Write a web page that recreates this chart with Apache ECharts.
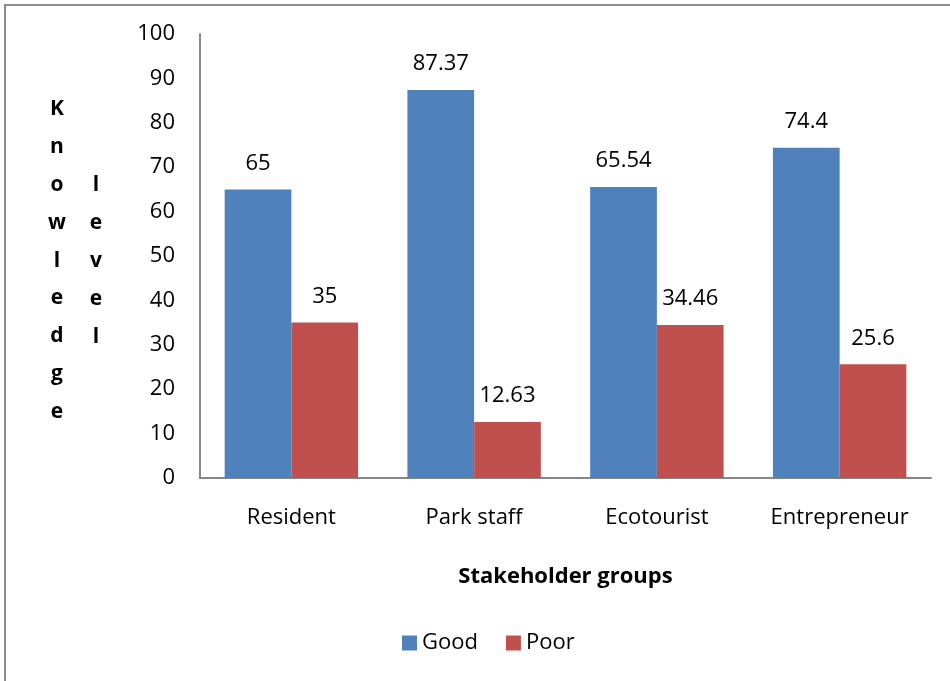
<!DOCTYPE html>
<html>
<head>
<meta charset="utf-8">
<script src="https://cdn.jsdelivr.net/npm/echarts@6/dist/echarts.min.js"></script>
<style>
  html, body { margin: 0; padding: 0; background: #fff; }
  #chart { width: 950px; height: 681px; }
</style>
</head>
<body>
<div id="chart"></div>
<script>
// Knowledge level by stakeholder group
const categories = ['Resident', 'Park staff', 'Ecotourist', 'Entrepreneur'];
const goodValues = [65, 87.37, 65.54, 74.4];
const poorValues = [35, 12.63, 34.46, 25.6];
const seriesNames = ['Good', 'Poor'];
const yTitleFirst = 'Knowledge';
const yTitleSecond = 'level';
const xTitle = 'Stakeholder groups';

const FONT = '"Open Sans", "Noto Sans", sans-serif';
const chart = echarts.init(document.getElementById('chart'));

const labelStyle = {
  show: true,
  position: 'top',
  distance: 15,
  color: '#000',
  fontFamily: FONT,
  fontSize: 22
};

const letterColumn = (word, x, y) => ({
  type: 'text',
  x: x,
  y: y,
  style: {
    text: word.split('').join('\n'),
    fontFamily: FONT,
    fontWeight: 'bold',
    fontSize: 21,
    lineHeight: 37.9,
    fill: '#000',
    align: 'center',
    verticalAlign: 'top'
  }
});

chart.setOption({
  animation: false,
  textStyle: { fontFamily: FONT },
  graphic: [
    {
      type: 'rect',
      shape: { x: 5, y: 5, width: 1000, height: 720 },
      style: { fill: 'none', stroke: '#8c8c8c', lineWidth: 2 },
      silent: true
    },
    letterColumn(yTitleFirst, 57, 90),
    letterColumn(yTitleSecond, 96, 166)
  ],
  grid: { left: 200, right: 19, top: 34, bottom: 203, containLabel: false },
  legend: {
    bottom: 22,
    left: 397,
    itemWidth: 15,
    itemHeight: 15,
    itemGap: 28,
    icon: 'rect',
    textStyle: { fontFamily: FONT, fontSize: 22, color: '#000' },
    data: seriesNames
  },
  xAxis: {
    type: 'category',
    data: categories,
    name: xTitle,
    nameLocation: 'middle',
    nameGap: 88,
    nameTextStyle: { fontFamily: FONT, fontWeight: 'bold', fontSize: 22, color: '#000' },
    axisLine: { lineStyle: { color: '#868686', width: 2 } },
    axisTick: { show: false },
    axisLabel: { margin: 29, fontFamily: FONT, fontSize: 22, color: '#000' }
  },
  yAxis: {
    type: 'value',
    min: 0,
    max: 100,
    interval: 10,
    axisLine: { show: true, lineStyle: { color: '#868686', width: 2 } },
    axisTick: { show: false },
    splitLine: { show: false },
    axisLabel: { margin: 25, fontFamily: FONT, fontSize: 22, color: '#000' }
  },
  series: [
    {
      name: seriesNames[0],
      type: 'bar',
      data: goodValues,
      barGap: '0%',
      barCategoryGap: '27%',
      itemStyle: { color: '#4F81BD' },
      label: labelStyle
    },
    {
      name: seriesNames[1],
      type: 'bar',
      data: poorValues,
      itemStyle: { color: '#C0504D' },
      label: labelStyle
    }
  ]
});
</script>
</body>
</html>
